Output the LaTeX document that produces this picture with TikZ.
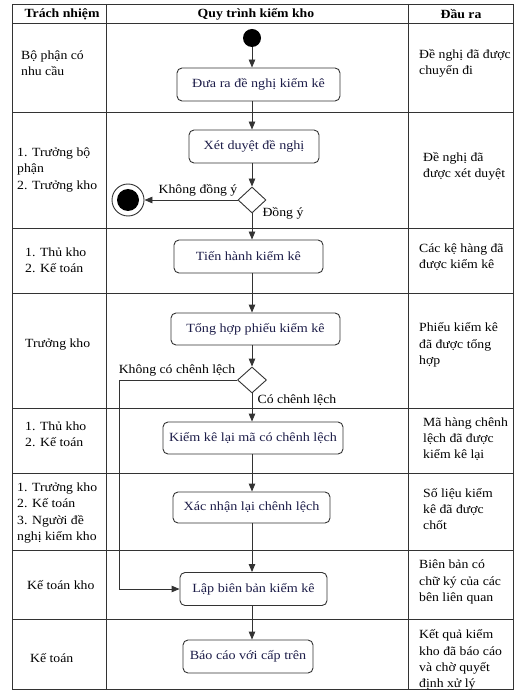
\documentclass[tikz,border=0pt]{standalone}
\usepackage{fontspec}
\setmainfont{Liberation Serif}[FakeStretch=1.1]
\newfontfamily\boxfont{Liberation Serif}[FakeStretch=1.13]
\usetikzlibrary{arrows.meta,shapes.geometric}
\definecolor{linec}{HTML}{333333}
\definecolor{boxtext}{HTML}{1C1C48}
\begin{document}
\begin{tikzpicture}[x=1pt,y=-1pt,
 lane/.style={draw=linec, line width=0.9pt},
 act/.style={draw=linec, line width=0.9pt, rounded corners=5pt, text=boxtext, inner sep=0pt, font=\boxfont\fontsize{12.5}{15}\selectfont},
 dec/.style={diamond, draw=linec, fill=white, line width=0.9pt, minimum width=28pt, minimum height=26pt, inner sep=0pt},
 flow/.style={draw=linec, line width=0.9pt, -{Triangle[length=8pt,width=6.5pt]}},
 celltxt/.style={font=\fontsize{12.5}{16.3}\selectfont, align=left, anchor=west, inner sep=0pt},
 hdr/.style={font=\bfseries\fontsize{12.5}{14}\selectfont, inner sep=0pt},
 lbl/.style={font=\fontsize{12.5}{14}\selectfont, inner sep=0pt}
]
\useasboundingbox (0,0) rectangle (530,700);
% swimlane table
\draw[lane] (12,4) rectangle (513,689);
\draw[lane] (106,4) -- (106,689);
\draw[lane] (408,4) -- (408,689);
\foreach \yy in {23,112,228,293,408,473,550,619}
  \draw[lane] (12,\yy) -- (513,\yy);
% headers
\node[hdr] (h1) at (62,14) {Trách nhiệm};
\node[hdr] (h2) at (256,14) {Quy trình kiểm kho};
\node[hdr] (h3) at (461,14) {Đầu ra};
% left column
\node[celltxt] (r1l) at (21,63.5) {Bộ phận có\\nhu cầu};
\node[celltxt] (r2l) at (17,170) {1. Trưởng bộ\\phận\\2. Trưởng kho};
\node[celltxt] (r3l) at (25,260) {1. Thủ kho\\2. Kế toán};
\node[celltxt] (r4l) at (25,345) {Trưởng kho};
\node[celltxt] (r5l) at (25,434) {1. Thủ kho\\2. Kế toán};
\node[celltxt] (r6l) at (17,513) {1. Trưởng kho\\2. Kế toán\\3. Người đề\\nghị kiểm kho};
\node[celltxt] (r7l) at (27,585) {Kế toán kho};
\node[celltxt] (r8l) at (30,658) {Kế toán};
% right column
\node[celltxt] (r1r) at (419,63.5) {Đề nghị đã được\\chuyển đi};
\node[celltxt] (r2r) at (423,166) {Đề nghị đã\\được xét duyệt};
\node[celltxt] (r3r) at (419,257) {Các kệ hàng đã\\được kiểm kê};
\node[celltxt] (r4r) at (419,345) {Phiếu kiểm kê\\đã được tổng\\hợp};
\node[celltxt] (r5r) at (423,439) {Mã hàng chênh\\lệch đã được\\kiểm kê lại};
\node[celltxt] (r6r) at (423,509) {Số liệu kiểm\\kê đã được\\chốt};
\node[celltxt] (r7r) at (419,582) {Biên bản có\\chữ ký của các\\bên liên quan};
\node[celltxt] (r8r) at (419,660) {Kết quả kiểm\\kho đã báo cáo\\và chờ quyết\\định xử lý};
% flow nodes
\node[circle, fill=black, minimum size=18pt, inner sep=0pt] (s) at (252,38) {};
\node[act, minimum width=163pt, minimum height=33pt] (b1) at (258.5,84.5) {Đưa ra đề nghị kiểm kê};
\node[act, minimum width=130pt, minimum height=33pt] (b2) at (254,146.5) {Xét duyệt đề nghị};
\node[dec] (d1) at (252,200) {};
\node[circle, draw=linec, line width=0.9pt, fill=white, minimum size=32pt, inner sep=0pt] (e) at (128,200) {};
\node[circle, fill=black, minimum size=22pt, inner sep=0pt] (ei) at (e) {};
\node[act, minimum width=149pt, minimum height=33pt] (b3) at (248.5,256.5) {Tiến hành kiểm kê};
\node[act, minimum width=169pt, minimum height=32pt] (b4) at (255.5,329) {Tổng hợp phiếu kiểm kê};
\node[dec, minimum width=29pt] (d2) at (252,380) {};
\node[act, minimum width=180pt, minimum height=32pt] (b5) at (253,438) {Kiểm kê lại mã có chênh lệch};
\node[act, minimum width=157pt, minimum height=31pt] (b6) at (251.5,507.5) {Xác nhận lại chênh lệch};
\node[act, minimum width=147pt, minimum height=33pt] (b7) at (253.5,589) {Lập biên bản kiểm kê};
\node[act, minimum width=130pt, minimum height=33pt] (b8) at (248,656.5) {Báo cáo với cấp trên};
\coordinate (c1) at (119,0);
% labels
\node[lbl] (l1) at (198,190) {Không đồng ý};
\node[lbl] (l2) at (283,213) {Đồng ý};
\node[lbl] (l3) at (177,370) {Không có chênh lệch};
\node[lbl] (l4) at (297,400) {Có chênh lệch};
% connectors
\draw[flow] (s) -- (b1.north -| s);
\draw[flow] (b1.south -| s) -- (b2.north -| s);
\draw[flow] (b2.south -| s) -- (d1.north);
\draw[flow] (d1.west) -- (e.east);
\draw[flow] (d1.south) -- (b3.north -| s);
\draw[flow] (b3.south -| s) -- (b4.north -| s);
\draw[flow] (b4.south -| s) -- (d2.north);
\draw[flow] (d2.south) -- (b5.north -| s);
\draw[flow] (b5.south -| s) -- (b6.north -| s);
\draw[flow] (b6.south -| s) -- (b7.north -| s);
\draw[flow] (b7.south -| s) -- (b8.north -| s);
\draw[flow] (d2.west) -- (d2.west -| c1) |- (b7.west);
\end{tikzpicture}
\end{document}
